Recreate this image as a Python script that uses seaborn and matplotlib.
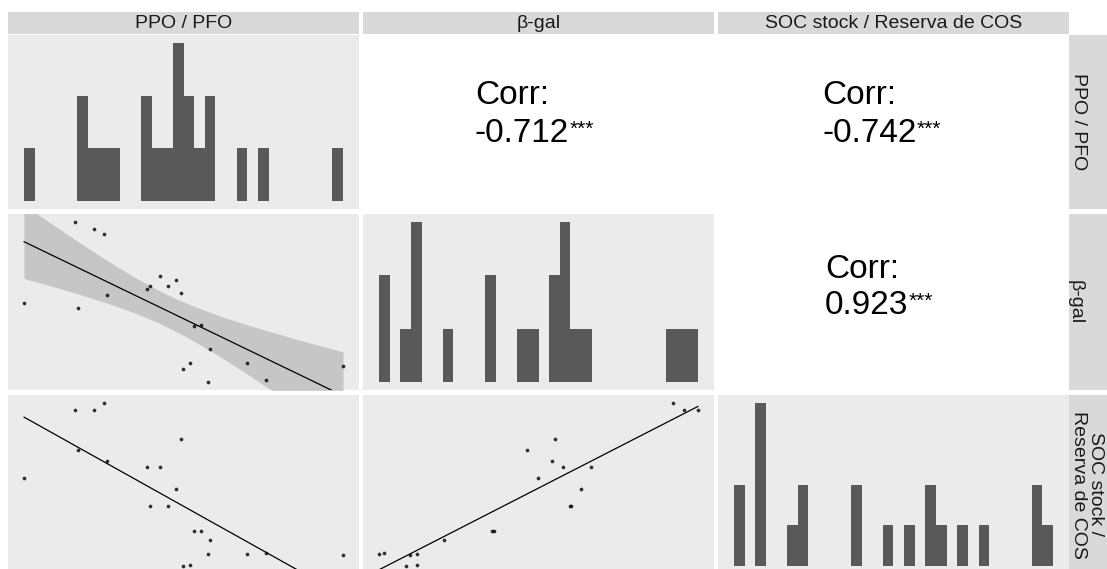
import numpy as np
import pandas as pd
import matplotlib
matplotlib.use("Agg")
import matplotlib.pyplot as plt
import seaborn as sns

# ---- data (arbitrary units) ----
ppo = [72, 225, 234, 283, 311, 322, 442, 449, 480, 504, 527, 542, 548, 571,
       583, 604, 626, 632, 743, 800, 1030]
bgal = [548, 1030, 515, 988, 956, 592, 626, 648, 708, 646, 680, 602, 152, 185,
        410, 416, 72, 267, 185, 86, 165]
soc = [262, 465, 347, 465, 487, 314, 295, 178, 295, 178, 231, 380, 0, 4,
       105, 105, 35, 77, 35, 38, 33]

col_labels = ["PPO / PFO", "β-gal", "SOC stock / Reserva de COS"]
row_labels = ["PPO / PFO", "β-gal", "SOC stock /\nReserva de COS"]
corr_values = {(0, 1): "-0.712", (0, 2): "-0.742", (1, 2): "0.923"}
corr_stars = {(0, 1): "***", (0, 2): "***", (1, 2): "***"}

sns.set_theme(style="white")
plt.rcParams["font.family"] = ["Liberation Sans", "DejaVu Sans"]

df = pd.DataFrame({"ppo": ppo, "bgal": bgal, "soc": soc})
keys = ["ppo", "bgal", "soc"]

W, H = 1107, 569
fig = plt.figure(figsize=(W / 100, H / 100), dpi=100)
fig.patch.set_facecolor("white")


def px_axes(l, t, w, h):
    return fig.add_axes([l / W, 1 - (t + h) / H, w / W, h / H])


col_left = [8, 363, 718]
col_w = 351
row_top = [35, 214, 395]
row_h = [174, 176, 179]

PANEL = "#EBEBEB"
STRIP = "#D9D9D9"
BAR = "#595959"


def clean(ax):
    ax.set_xticks([])
    ax.set_yticks([])
    ax.set_xlabel("")
    ax.set_ylabel("")
    for s in ax.spines.values():
        s.set_visible(False)


def padded(v):
    lo, hi = float(np.min(v)), float(np.max(v))
    p = 0.05 * (hi - lo)
    return lo - p, hi + p


def lm_band(ax, x, y):
    # analytic 95% confidence band of a linear fit (as ggplot's geom_smooth)
    n = len(x)
    b1, b0 = np.polyfit(x, y, 1)
    resid = y - (b0 + b1 * x)
    s = np.sqrt(np.sum(resid ** 2) / (n - 2))
    xs = np.linspace(x.min(), x.max(), 80)
    sxx = np.sum((x - x.mean()) ** 2)
    se = s * np.sqrt(1 / n + (xs - x.mean()) ** 2 / sxx)
    t = 2.093  # t(0.975, 19)
    yh = b0 + b1 * xs
    ax.fill_between(xs, yh - t * se, yh + t * se, color="#999999", alpha=0.45,
                    linewidth=0, zorder=1)


# corr text positions: (left px, baseline "Corr:" px, baseline value px)
corr_pos = {(0, 1): (475, 104, 142), (0, 2): (822, 104, 142), (1, 2): (825, 278, 314)}

for i in range(3):
    for j in range(3):
        ax = px_axes(col_left[j], row_top[i], col_w, row_h[i])
        if i == j:
            ax.set_facecolor(PANEL)
            v = df[keys[i]].to_numpy(dtype=float)
            w = (v.max() - v.min()) / 29
            edges = np.linspace(v.min() - w / 2, v.max() + w / 2, 31)
            sns.histplot(x=v, bins=edges, color=BAR, alpha=1, linewidth=0,
                         edgecolor="none", ax=ax)
            ymax = max(p.get_height() for p in ax.patches)
            ax.set_ylim(-0.05 * ymax, 1.05 * ymax)
            span = edges[-1] - edges[0]
            ax.set_xlim(edges[0] - 0.05 * span, edges[-1] + 0.05 * span)
        elif i > j:
            ax.set_facecolor(PANEL)
            x = df[keys[j]].to_numpy(dtype=float)
            y = df[keys[i]].to_numpy(dtype=float)
            if (i, j) == (1, 0):
                lm_band(ax, x, y)
            sns.regplot(x=x, y=y, ax=ax, ci=None, color="black", truncate=True,
                        scatter_kws=dict(s=7, linewidths=0, color="black", zorder=3),
                        line_kws=dict(color="black", lw=0.9, zorder=2))
            ax.set_xlim(*padded(x))
            ax.set_ylim(*padded(y))
        else:
            ax.set_facecolor("white")
            lx, b1, b2 = corr_pos[(i, j)]
            fx = (lx - col_left[j]) / col_w
            fy1 = 1 - (b1 - row_top[i]) / row_h[i]
            fy2 = 1 - (b2 - row_top[i]) / row_h[i]
            ax.text(fx, fy1, "Corr:", transform=ax.transAxes, ha="left",
                    va="baseline", fontsize=24, color="black")
            tv = ax.text(fx, fy2, corr_values[(i, j)], transform=ax.transAxes,
                         ha="left", va="baseline", fontsize=24, color="black")
            ax.annotate(corr_stars[(i, j)], xy=(1.0, 0.93), xycoords=tv,
                        ha="left", va="top", fontsize=15, color="black")
        clean(ax)

# top strips
for j in range(3):
    sax = px_axes(col_left[j], 12, col_w, 22)
    sax.set_facecolor(STRIP)
    clean(sax)
    sax.text(0.5, 0.5, col_labels[j], transform=sax.transAxes, ha="center",
             va="center", fontsize=14, color="#1A1A1A")

# right strips
strip_text_x = [1078, 1075, 1087]
for i in range(3):
    sax = px_axes(1069, row_top[i], 40, row_h[i])
    sax.set_facecolor(STRIP)
    clean(sax)
    fx = (strip_text_x[i] - 1069) / 40
    sax.text(fx, 0.5, row_labels[i], transform=sax.transAxes, ha="center",
             va="center", rotation=-90, fontsize=14, color="#1A1A1A",
             multialignment="center", linespacing=1.0)

fig.savefig("out.png", dpi=100)
